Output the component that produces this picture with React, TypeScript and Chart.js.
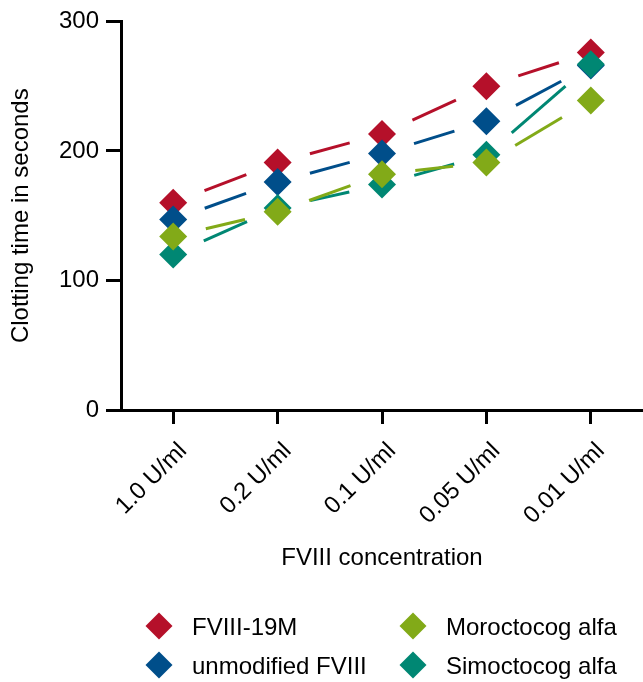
import React, { useEffect, useRef } from "react";
import { Chart, registerables } from "chart.js";

Chart.register(...registerables);

const categories = ["1.0 U/ml", "0.2 U/ml", "0.1 U/ml", "0.05 U/ml", "0.01 U/ml"];
const fviii19m = [160, 191, 213, 250, 276];
const unmodifiedFviii = [147, 176, 198, 223, 266];
const moroctocog = [134, 153, 182, 191, 239];
const simoctocog = [120, 156, 174, 197, 267];
const yTicks = [0, 100, 200, 300];

const FONT = "'Liberation Sans', Arial, Helvetica, sans-serif";

const segmentPlugin = {
  id: "gappedSegments",
  beforeDatasetsDraw(chart: any) {
    const ctx = chart.ctx;
    const gap = 33.5;
    const metas = chart.getSortedVisibleDatasetMetas().slice().reverse();
    ctx.save();
    for (const meta of metas) {
      const ds = chart.data.datasets[meta.index];
      const pts = meta.data;
      ctx.strokeStyle = ds.backgroundColor;
      ctx.lineWidth = 3;
      ctx.lineCap = "butt";
      for (let i = 0; i < pts.length - 1; i++) {
        const a = pts[i], b = pts[i + 1];
        const dx = b.x - a.x, dy = b.y - a.y;
        const len = Math.hypot(dx, dy);
        if (len <= gap * 2) continue;
        const ux = dx / len, uy = dy / len;
        ctx.beginPath();
        ctx.moveTo(a.x + ux * gap, a.y + uy * gap);
        ctx.lineTo(b.x - ux * gap, b.y - uy * gap);
        ctx.stroke();
      }
    }
    ctx.restore();
  },
};

const legendPlugin = {
  id: "gridLegend",
  afterDraw(chart: any) {
    const ctx = chart.ctx;
    const slots = [
      { mx: 159, my: 626, tx: 192, ty: 635 },
      { mx: 159, my: 665, tx: 192, ty: 674 },
      { mx: 413, my: 626, tx: 446, ty: 635 },
      { mx: 413, my: 665, tx: 446, ty: 674 },
    ];
    ctx.save();
    chart.data.datasets.forEach((ds: any, i: number) => {
      const s = slots[i];
      const r = 13.5;
      ctx.fillStyle = ds.backgroundColor;
      ctx.beginPath();
      ctx.moveTo(s.mx - r, s.my);
      ctx.lineTo(s.mx, s.my - r);
      ctx.lineTo(s.mx + r, s.my);
      ctx.lineTo(s.mx, s.my + r);
      ctx.closePath();
      ctx.fill();
      ctx.fillStyle = "#000";
      ctx.font = `24px ${FONT}`;
      ctx.textAlign = "left";
      ctx.textBaseline = "alphabetic";
      ctx.fillText(ds.label, s.tx, s.ty);
    });
    ctx.restore();
  },
};

export default function App() {
  const ref = useRef<HTMLCanvasElement | null>(null);

  useEffect(() => {
    if (!ref.current) return;
    const mk = (label: string, data: number[], color: string, order: number) => ({
      label,
      data,
      backgroundColor: color,
      borderColor: color,
      showLine: false,
      pointStyle: "rectRot",
      pointRadius: 14,
      pointHoverRadius: 14,
      pointBorderWidth: 0,
      order,
    });
    const chart = new Chart(ref.current, {
      type: "line",
      data: {
        labels: categories,
        datasets: [
          mk("FVIII-19M", fviii19m, "#B5102A", 3),
          mk("unmodified FVIII", unmodifiedFviii, "#004E8A", 2),
          mk("Moroctocog alfa", moroctocog, "#82AA18", 0),
          mk("Simoctocog alfa", simoctocog, "#008773", 1),
        ],
      },
      options: {
        animation: false,
        responsive: false,
        events: [],
        layout: { autoPadding: false, padding: { top: 20, left: 0, right: 0, bottom: 108 } },
        plugins: { legend: { display: false }, tooltip: { enabled: false } },
        scales: {
          x: {
            type: "category",
            offset: true,
            afterFit: (s: any) => {
              s.height = 164;
              s.paddingLeft = 0;
              s.paddingRight = 0;
            },
            border: { display: true, color: "#000", width: 3 },
            grid: {
              display: true,
              drawOnChartArea: false,
              drawTicks: true,
              tickLength: 14,
              tickWidth: 3,
              color: "#000",
              lineWidth: 3,
              offset: false,
            },
            ticks: {
              autoSkip: false,
              maxRotation: 45,
              minRotation: 45,
              color: "#000",
              font: { family: FONT, size: 24 },
              padding: 13,
              labelOffset: 10,
            },
            title: {
              display: true,
              text: "FVIII concentration",
              color: "#000",
              font: { family: FONT, size: 24 },
              padding: { top: 0, bottom: 1 },
            },
          },
          y: {
            min: 0,
            max: 300,
            afterFit: (s: any) => {
              s.width = 121;
            },
            afterBuildTicks: (s: any) => {
              s.ticks = yTicks.map((v) => ({ value: v }));
            },
            border: { display: true, color: "#000", width: 3 },
            grid: {
              display: true,
              drawOnChartArea: false,
              drawTicks: true,
              tickLength: 15,
              tickWidth: 3,
              color: "#000",
              lineWidth: 3,
            },
            ticks: {
              color: "#000",
              font: { family: FONT, size: 24 },
              padding: 7,
            },
            title: {
              display: true,
              text: "Clotting time in seconds",
              color: "#000",
              font: { family: FONT, size: 24 },
              padding: { top: 7, bottom: 0 },
            },
          },
        },
      },
      plugins: [segmentPlugin, legendPlugin],
    } as any);
    return () => chart.destroy();
  }, []);

  return (
    <div style={{ position: "absolute", left: 0, top: 0, width: 643, height: 682, background: "#fff" }}>
      <canvas ref={ref} width={643} height={682} style={{ display: "block", width: 643, height: 682 }} />
    </div>
  );
}
